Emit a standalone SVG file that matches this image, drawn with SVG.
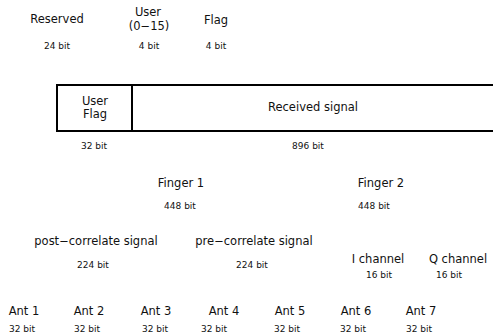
<svg xmlns="http://www.w3.org/2000/svg" width="493" height="335" viewBox="0 0 493 335">
<style>
text{font-family:"DejaVu Sans","Liberation Sans",Arial,sans-serif;fill:#111;text-anchor:middle}
.l{font-size:11.5px}
.s{font-size:9px}
.box{fill:#fff;stroke:#000;stroke-width:2}
</style>
<rect width="493" height="335" fill="#fff"/>
<g id="reserved"><text class="l" x="57" y="23">Reserved</text><text class="s" x="57" y="49">24 bit</text></g>
<g id="user015"><text class="l" x="148" y="16">User</text><text class="l" x="149" y="30">(0−15)</text><text class="s" x="149" y="49">4 bit</text></g>
<g id="flag"><text class="l" x="216" y="24">Flag</text><text class="s" x="216" y="49">4 bit</text></g>
<g id="packet">
<rect class="box" x="57" y="85" width="450" height="46"/>
<line x1="132" y1="85" x2="132" y2="131" stroke="#000" stroke-width="2"/>
</g>
<g id="userflag"><text class="l" x="95" y="105">User</text><text class="l" x="95" y="118">Flag</text><text class="s" x="94" y="149">32 bit</text></g>
<g id="received"><text class="l" x="313" y="111">Received signal</text><text class="s" x="308" y="149">896 bit</text></g>
<g id="finger1"><text class="l" x="181" y="187">Finger 1</text><text class="s" x="180" y="209">448 bit</text></g>
<g id="finger2"><text class="l" x="381" y="187">Finger 2</text><text class="s" x="374" y="209">448 bit</text></g>
<g id="post"><text class="l" x="96" y="245">post−correlate signal</text><text class="s" x="93" y="268">224 bit</text></g>
<g id="pre"><text class="l" x="254" y="245">pre−correlate signal</text><text class="s" x="252" y="268">224 bit</text></g>
<g id="ich"><text class="l" x="378" y="263">I channel</text><text class="s" x="379" y="278">16 bit</text></g>
<g id="qch"><text class="l" x="458" y="263">Q channel</text><text class="s" x="449" y="278">16 bit</text></g>
<g id="ant1"><text class="l" x="24" y="315">Ant 1</text><text class="s" x="22" y="332">32 bit</text></g>
<g id="ant2"><text class="l" x="89" y="315">Ant 2</text><text class="s" x="87" y="332">32 bit</text></g>
<g id="ant3"><text class="l" x="156" y="315">Ant 3</text><text class="s" x="155" y="332">32 bit</text></g>
<g id="ant4"><text class="l" x="224" y="315">Ant 4</text><text class="s" x="214" y="332">32 bit</text></g>
<g id="ant5"><text class="l" x="290" y="315">Ant 5</text><text class="s" x="287" y="332">32 bit</text></g>
<g id="ant6"><text class="l" x="356" y="315">Ant 6</text><text class="s" x="353" y="332">32 bit</text></g>
<g id="ant7"><text class="l" x="421" y="315">Ant 7</text><text class="s" x="419" y="332">32 bit</text></g>
<g id="connectors"></g>
</svg>
